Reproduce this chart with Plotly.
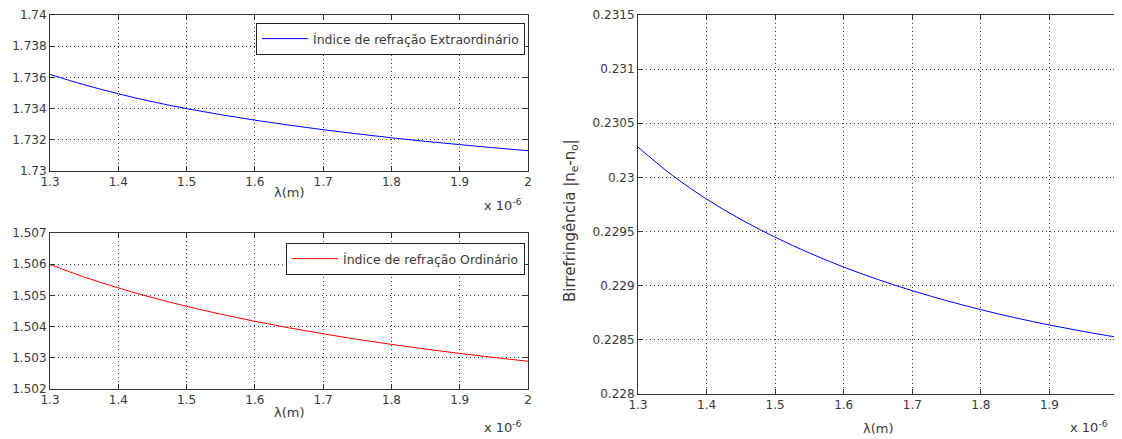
import plotly.graph_objects as go

# wavelength in micrometres (axis shows x 10^-6 m)
wl = [1.30, 1.35, 1.40, 1.45, 1.50, 1.55, 1.60, 1.65, 1.70, 1.75, 1.80, 1.85, 1.90, 1.95, 2.00]
n_e = [1.73619, 1.73553, 1.73495, 1.73444, 1.73400, 1.73361, 1.73326, 1.73294, 1.73265,
       1.73238, 1.73213, 1.73190, 1.73169, 1.73149, 1.73130]
n_o = [1.50599, 1.50559, 1.50524, 1.50493, 1.50465, 1.50440, 1.50417, 1.50396, 1.50377,
       1.50359, 1.50343, 1.50328, 1.50314, 1.50301, 1.50289]
biref = [0.230280, 0.230020, 0.229800, 0.229612, 0.229448, 0.229302, 0.229172, 0.229057,
         0.228954, 0.228862, 0.228779, 0.228704, 0.228637, 0.228577, 0.228523]

x_ticks = [1.3, 1.4, 1.5, 1.6, 1.7, 1.8, 1.9, 2.0]
x_ticktext = ["1.3", "1.4", "1.5", "1.6", "1.7", "1.8", "1.9", "2"]
ne_ticks = [1.73, 1.732, 1.734, 1.736, 1.738, 1.74]
ne_ticktext = ["1.73", "1.732", "1.734", "1.736", "1.738", "1.74"]
no_ticks = [1.502, 1.503, 1.504, 1.505, 1.506, 1.507]
no_ticktext = ["1.502", "1.503", "1.504", "1.505", "1.506", "1.507"]
bi_ticks = [0.228, 0.2285, 0.229, 0.2295, 0.23, 0.2305, 0.231, 0.2315]
bi_ticktext = ["0.228", "0.2285", "0.229", "0.2295", "0.23", "0.2305", "0.231", "0.2315"]

label_ne = "Índice de refração Extraordinário"
label_no = "Índice de refração Ordinário"

# the page body has an 8px margin, so the figure is drawn offset by (8, 8);
# the figure is kept full size so labels near the window edge are not clipped by the div
OFF = 8
W, H = 1122, 439
FONT = "DejaVu Sans, Verdana, sans-serif"
TXT = "#3a3a3a"

def px(x):
    return (x - OFF) / W

def py(y):
    return 1 - (y - OFF) / H

fig = go.Figure()
fig.add_trace(go.Scatter(x=wl, y=n_e, mode="lines", line=dict(color="#0000ff", width=1, shape="spline"),
                         name=label_ne, xaxis="x", yaxis="y", legend="legend"))
fig.add_trace(go.Scatter(x=wl, y=n_o, mode="lines", line=dict(color="#ff0000", width=1, shape="spline"),
                         name=label_no, xaxis="x2", yaxis="y2", legend="legend2"))
fig.add_trace(go.Scatter(x=wl, y=biref, mode="lines", line=dict(color="#0000ff", width=1, shape="spline"),
                         name="biref", xaxis="x3", yaxis="y3", showlegend=False))

GRID = dict(showgrid=True, gridcolor="#3c3c3c", griddash="1px,3px", gridwidth=1, zeroline=False)
common_x = dict(range=[1.3, 2.0], tickvals=x_ticks, ticktext=x_ticktext, ticks="inside", ticklen=5,
                tickcolor="#333", showline=True, linecolor="#333", linewidth=1, mirror="ticks",
                automargin=False, ticklabeloverflow="allow",
                tickfont=dict(family=FONT, size=12, color=TXT), **GRID)
common_y = dict(ticks="inside", ticklen=5, tickcolor="#333", showline=True, linecolor="#333", linewidth=1,
                mirror="ticks", automargin=False, ticklabeloverflow="allow",
                tickfont=dict(family=FONT, size=12, color=TXT), **GRID)

L0, L1 = px(50), px(528)
R0, R1 = px(638), px(1118)

fig.update_layout(
    width=W, height=H, margin=dict(l=0, r=0, t=0, b=0, autoexpand=False),
    paper_bgcolor="white", plot_bgcolor="white",
    font=dict(family=FONT, size=12, color=TXT),
    xaxis=dict(domain=[L0, L1], anchor="y", **common_x),
    yaxis=dict(domain=[py(171), py(15)], anchor="x", range=[1.73, 1.74],
               tickvals=ne_ticks, ticktext=ne_ticktext, **common_y),
    xaxis2=dict(domain=[L0, L1], anchor="y2", **common_x),
    yaxis2=dict(domain=[py(389), py(233)], anchor="x2", range=[1.502, 1.507],
                tickvals=no_ticks, ticktext=no_ticktext, **common_y),
    xaxis3=dict(domain=[R0, R1], anchor="y3", **common_x),
    yaxis3=dict(domain=[py(394), py(15)], anchor="x3", range=[0.228, 0.2315],
                tickvals=bi_ticks, ticktext=bi_ticktext, **common_y),
    legend=dict(x=px(525), y=py(23), xanchor="right", yanchor="top", bgcolor="white",
                bordercolor="#222", borderwidth=1, font=dict(family=FONT, size=12.5, color=TXT),
                itemwidth=46, tracegroupgap=0),
    legend2=dict(x=px(525), y=py(243), xanchor="right", yanchor="top", bgcolor="white",
                 bordercolor="#222", borderwidth=1, font=dict(family=FONT, size=12.5, color=TXT),
                 itemwidth=46, tracegroupgap=0),
    showlegend=True,
)

ann = []
for xc, yc in [(289, 192), (289, 412), (878, 428)]:
    ann.append(dict(x=px(xc), y=py(yc), xref="paper", yref="paper", text="λ(m)", showarrow=False,
                    font=dict(family=FONT, size=13, color=TXT), xanchor="center", yanchor="middle"))
for xr, yc in [(524, 205), (524, 427), (1110, 427)]:
    ann.append(dict(x=px(xr), y=py(yc), xref="paper", yref="paper",
                    text="x 10<sup>-6</sup>", showarrow=False,
                    font=dict(family=FONT, size=13, color=TXT), xanchor="right", yanchor="middle"))
ann.append(dict(x=px(570), y=py(221), xref="paper", yref="paper",
                text="Birrefringência |n<sub>e</sub>-n<sub>o</sub>|", showarrow=False, textangle=-90,
                font=dict(family=FONT, size=15, color=TXT), xanchor="center", yanchor="middle"))
fig.update_layout(annotations=ann)

fig.write_html("out.html")
